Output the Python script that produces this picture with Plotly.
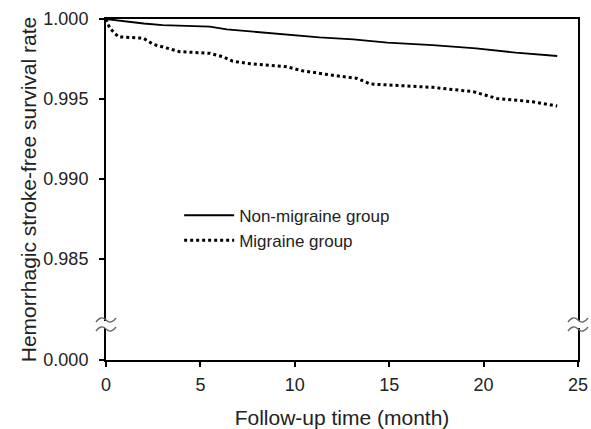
import plotly.graph_objects as go

# ---- data ----
non_x = [0, 1, 2, 3, 5.5, 6.4, 8.85, 11.3, 13.1, 14.9, 17.3, 19.6, 21.7, 23.9]
non_y = [1.0, 0.99985, 0.99972, 0.99962, 0.99952, 0.99935, 0.9991, 0.99885,
         0.99873, 0.99852, 0.99837, 0.99817, 0.9979, 0.99769]

mig_x = [0, 0.2, 0.65, 1.98, 2.5, 3.2, 3.9, 5.5, 6.2, 6.7, 7.45, 9.57, 10.4,
         11.9, 13.3, 14.0, 17.3, 19.45, 20.7, 22.6, 23.9]
mig_y = [1.0, 0.99942, 0.99889, 0.9988, 0.99842, 0.99817, 0.99796, 0.99786,
         0.99764, 0.99737, 0.99723, 0.99702, 0.99677, 0.9965, 0.99629, 0.99594,
         0.99573, 0.99546, 0.99504, 0.99483, 0.99456]

x_ticks = [0, 5, 10, 15, 20, 25]
y_tick_vals = [0.9787, 0.985, 0.990, 0.995, 1.000]   # first value = broken-axis position of 0.000
y_tick_text = ["0.000", "0.985", "0.990", "0.995", "1.000"]

FONT = "Liberation Sans, Arial, sans-serif"

fig = go.Figure()
fig.add_trace(go.Scatter(x=non_x, y=non_y, mode="lines", name="Non-migraine group",
                         line=dict(color="black", width=1.8)))
fig.add_trace(go.Scatter(x=mig_x, y=mig_y, mode="lines", name="Migraine group",
                         line=dict(color="black", width=3, dash="3px,3px")))

# plot-area geometry (px) for decoration placement
L, R, T, B = 106, 578, 19, 360
W, H = R - L, B - T


def p(px, py):
    return (px - L) / W, (B - py) / H


def wave(xc, yc):
    pts = [(xc - 10, yc + 2), (xc - 5, yc - 5), (xc, yc), (xc + 5, yc + 5), (xc + 10, yc - 2)]
    q = [p(*a) for a in pts]
    return (f"M {q[0][0]},{q[0][1]} Q {q[1][0]},{q[1][1]} {q[2][0]},{q[2][1]} "
            f"Q {q[3][0]},{q[3][1]} {q[4][0]},{q[4][1]}")


shapes = []
for xc in (L, R):
    x0, y0 = p(xc - 3, 328)
    x1, y1 = p(xc + 3, 321)
    shapes.append(dict(type="rect", xref="paper", yref="paper", x0=x0, y0=y0, x1=x1, y1=y1,
                       fillcolor="white", line=dict(width=0), layer="above"))
    for yc in (320, 329):
        shapes.append(dict(type="path", xref="paper", yref="paper", path=wave(xc, yc),
                           line=dict(color="#666", width=1.3), layer="above"))

fig.update_layout(
    width=591, height=429,
    margin=dict(l=L, r=591 - R, t=T, b=429 - B, autoexpand=False),
    paper_bgcolor="white", plot_bgcolor="white",
    font=dict(family=FONT, color="#222", size=18),
    showlegend=True,
    legend=dict(x=0.155, y=0.476, xanchor="left", yanchor="top",
                bgcolor="rgba(0,0,0,0)", font=dict(size=17, family=FONT),
                itemwidth=50, tracegroupgap=2),
    shapes=shapes,
)
fig.update_xaxes(range=[0, 25], tickvals=x_ticks, ticks="outside", ticklen=5,
                 tickwidth=1.5, tickcolor="black", showline=True, linecolor="black",
                 linewidth=2, mirror=True, showgrid=False, zeroline=False,
                 tickfont=dict(size=18), automargin=False, ticklabelstandoff=2,
                 title=dict(text="Follow-up time (month)", font=dict(size=21), standoff=17))
fig.update_yaxes(range=[0.9787, 1.0], tickvals=y_tick_vals, ticktext=y_tick_text,
                 ticks="outside", ticklen=5, tickwidth=1.5, tickcolor="black",
                 showline=True, linecolor="black", linewidth=2, mirror=True,
                 showgrid=False, zeroline=False, tickfont=dict(size=18), automargin=False,
                 ticklabelstandoff=7,
                 title=dict(text="Hemorrhagic stroke-free survival rate",
                            font=dict(size=21), standoff=1))

fig.write_html("out.html", config={"displayModeBar": False},
               post_script="document.body.style.margin='0';document.body.style.overflow='hidden';")
